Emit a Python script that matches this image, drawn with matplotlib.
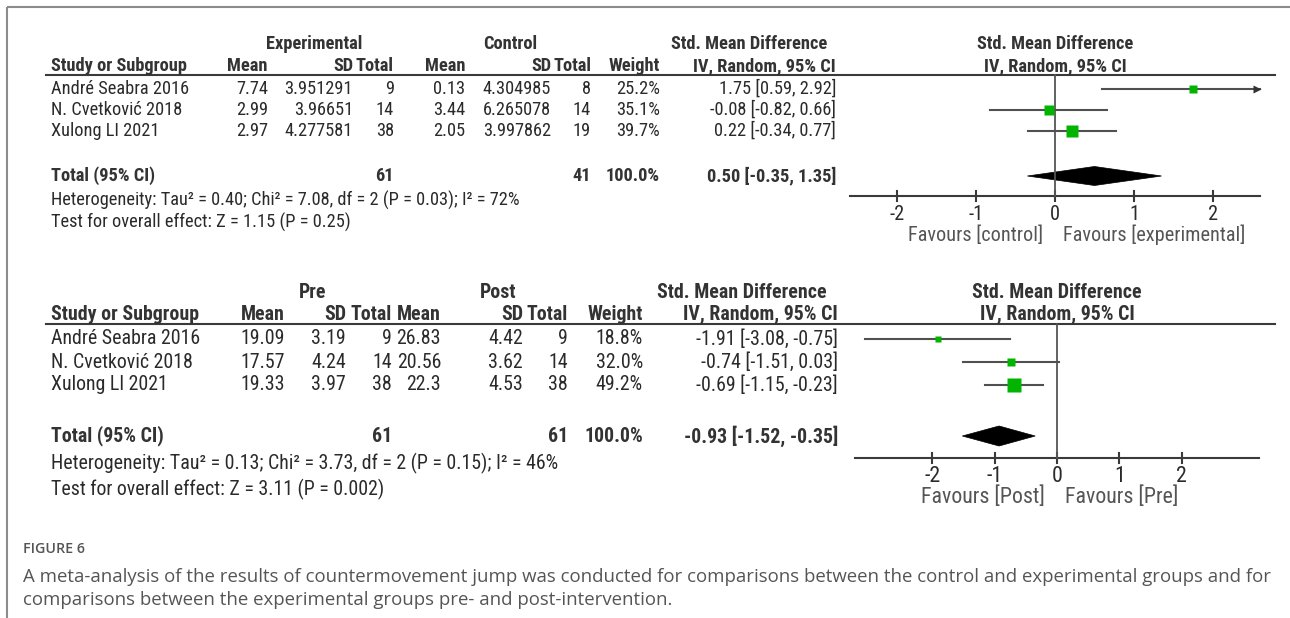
import matplotlib
matplotlib.use("Agg")
import matplotlib.pyplot as plt
from matplotlib.patches import Polygon
from matplotlib import font_manager

W, H = 1290, 618

# ---------------- Data: experimental vs control ----------------
studies = ["André Seabra 2016", "N. Cvetković 2018", "Xulong LI 2021"]
exp_mean = [7.74, 2.99, 2.97]
exp_sd = [3.951291, 3.96651, 4.277581]
exp_n = [9, 14, 38]
ctl_mean = [0.13, 3.44, 2.05]
ctl_sd = [4.304985, 6.265078, 3.997862]
ctl_n = [8, 14, 19]
weight_ec = [25.2, 35.1, 39.7]
smd_ec = [1.75, -0.08, 0.22]
lo_ec = [0.59, -0.82, -0.34]
hi_ec = [2.92, 0.66, 0.77]
pooled_ec = (0.50, -0.35, 1.35)
het_ec = "Heterogeneity: Tau² = 0.40; Chi² = 7.08, df = 2 (P = 0.03); I² = 72%"
test_ec = "Test for overall effect: Z = 1.15 (P = 0.25)"

# ---------------- Data: pre vs post ----------------
pre_mean = [19.09, 17.57, 19.33]
pre_sd = [3.19, 4.24, 3.97]
pre_n = [9, 14, 38]
post_mean = [26.83, 20.56, 22.3]
post_sd = [4.42, 3.62, 4.53]
post_n = [9, 14, 38]
weight_pp = [18.8, 32.0, 49.2]
smd_pp = [-1.91, -0.74, -0.69]
lo_pp = [-3.08, -1.51, -1.15]
hi_pp = [-0.75, 0.03, -0.23]
pooled_pp = (-0.93, -1.52, -0.35)
het_pp = "Heterogeneity: Tau² = 0.13; Chi² = 3.73, df = 2 (P = 0.15); I² = 46%"
test_pp = "Test for overall effect: Z = 3.11 (P = 0.002)"

ticks = [-2, -1, 0, 1, 2]

caption_head = "FIGURE 6"
caption_lines = [
    "A meta-analysis of the results of countermovement jump was conducted for comparisons between the control and experimental groups and for",
    "comparisons between the experimental groups pre- and post-intervention.",
]

# ---------------- Fonts ----------------
available = {f.name for f in font_manager.fontManager.ttflist}
narrow = next((f for f in ["Liberation Sans Narrow", "Nimbus Sans Narrow",
                           "Arial Narrow", "Roboto Condensed", "Archivo Narrow",
                           "PT Sans Narrow"] if f in available), "Liberation Sans")
TABLE_FONT = [narrow, "Liberation Sans", "DejaVu Sans"]
cap = "Open Sans" if "Open Sans" in available else "Liberation Sans"
CAPTION_FONT = [cap, "DejaVu Sans"]

TXT = "#2a2a2a"
HDR = "#333333"
GREEN = "#00b400"
LINE = "#3a3a3a"

fig = plt.figure(figsize=(W / 100, H / 100), dpi=100)
lay = fig.add_axes([0, 0, 1, 1])
lay.set_xlim(0, W)
lay.set_ylim(H, 0)
lay.axis("off")
renderer = fig.canvas.get_renderer()


def fit_size(text, family, target, weight="normal", base=10.0):
    t = lay.text(0, 0, text, fontsize=base, family=family, fontweight=weight)
    w = t.get_window_extent(renderer).width
    t.remove()
    return base * target / w


# outer frame
lay.plot([7, 7], [7, H], color="#8c8c8c", lw=1.5, solid_capstyle="butt")
lay.plot([7, W], [7, 7], color="#8c8c8c", lw=1.5, solid_capstyle="butt")


def ci_text(e, l, h):
    return f"{e:.2f} [{l:.2f}, {h:.2f}]"


def panel(grp_a, grp_b, a_mean, a_sd, a_n, b_mean, b_sd, b_n, weights,
          smd, lo, hi, pooled, het, test, fav_left, fav_right, L):
    # size the type from the width of one numeric cell
    fs = fit_size(str(L["fit_sample"]), TABLE_FONT, L["fit_w"])
    kw = dict(family=TABLE_FONT, fontsize=fs, va="center", color=TXT)
    bk = dict(family=TABLE_FONT, fontsize=fs, va="center", color=HDR,
              fontweight="bold")
    c = L["cols"]
    # group headings
    lay.text(L["grp_x"][0], L["y_grp"], grp_a, ha="center", **bk)
    lay.text(L["grp_x"][1], L["y_grp"], grp_b, ha="center", **bk)
    lay.text(L["smd_c"], L["y_grp"], "Std. Mean Difference", ha="center", **bk)
    lay.text(L["zero_px"], L["y_grp"], "Std. Mean Difference", ha="center", **bk)
    # column headings
    lay.text(L["x_study"], L["y_col"], "Study or Subgroup", ha="left", **bk)
    for x, s in zip(c, ["Mean", "SD", "Total", "Mean", "SD", "Total", "Weight"]):
        lay.text(x, L["y_col"], s, ha="right", **bk)
    lay.text(L["ci_r"], L["y_col"], "IV, Random, 95% CI", ha="right", **bk)
    lay.text(L["zero_px"], L["y_col"], "IV, Random, 95% CI", ha="center", **bk)
    lay.plot([46, 1275], [L["y_line"]] * 2, color=LINE, lw=1.5)
    # study rows
    for i, y in enumerate(L["rows"]):
        lay.text(L["x_study"], y, studies[i], ha="left", **kw)
        vals = [a_mean[i], a_sd[i], a_n[i], b_mean[i], b_sd[i], b_n[i]]
        for x, v in zip(c[:6], vals):
            lay.text(x, y, str(v), ha="right", **kw)
        lay.text(c[6], y, f"{weights[i]:.1f}%", ha="right", **kw)
        lay.text(L["ci_r"], y, ci_text(smd[i], lo[i], hi[i]), ha="right", **kw)
    # pooled row
    yt = L["y_total"]
    lay.text(L["x_study"], yt, "Total (95% CI)", ha="left", **bk)
    lay.text(c[2], yt, str(sum(a_n)), ha="right", **bk)
    lay.text(c[5], yt, str(sum(b_n)), ha="right", **bk)
    lay.text(c[6], yt, f"{sum(weights):.1f}%", ha="right", **bk)
    lay.text(L["ci_r"], yt, ci_text(*pooled), ha="right", **bk)
    lay.text(L["x_study"], L["y_het"], het, ha="left", **kw)
    lay.text(L["x_study"], L["y_test"], test, ha="left", **kw)

    # forest plot on its own axes: x in effect units, y shares the page rows
    unit, zero = L["unit_px"], L["zero_px"]
    px0, px1 = 840, 1280
    ax = fig.add_axes([px0 / W, 0, (px1 - px0) / W, 1])
    ax.set_xlim((px0 - zero) / unit, (px1 - zero) / unit)
    ax.set_ylim(H, 0)
    ax.axis("off")
    xa = L["axis_half"]
    ya = L["y_axis"]
    ax.plot([-xa, xa], [ya, ya], color=LINE, lw=1.5)
    for t in ticks:
        ax.plot([t, t], [ya - 5, ya + 5], color=LINE, lw=1.5)
        ax.text(t, ya + 19, str(t), ha="center", va="center",
                family=TABLE_FONT, fontsize=fs * 1.1, color=TXT)
    ax.plot([0, 0], [L["y_line"], ya], color="#555555", lw=1.3)
    for i, y in enumerate(L["rows"]):
        right = min(hi[i], xa)
        ax.plot([lo[i], right], [y, y], color="#505050", lw=1.5)
        if hi[i] > xa:
            ax.plot([right - 0.04], [y], marker=">", ms=6, color="#333333",
                    mec="none")
        side_pt = 0.28 * weights[i] * 0.72
        ax.plot([smd[i]], [y], marker="s", ms=side_pt, color=GREEN,
                mec="none")
    h = L["dia_h"]
    est, plo, phi = pooled
    ax.add_patch(Polygon([(plo, yt), (est, yt - h), (phi, yt), (est, yt + h)],
                         closed=True, fc="black", ec="black", lw=0.5))
    yf = ya + 39
    ax.annotate(fav_left, xy=(0, yf), xytext=(-12, 0), textcoords="offset pixels",
                ha="right", va="center", family=TABLE_FONT, fontsize=fs * 1.1,
                color="#555555")
    ax.annotate(fav_right, xy=(0, yf), xytext=(8, 0), textcoords="offset pixels",
                ha="left", va="center", family=TABLE_FONT, fontsize=fs * 1.1,
                color="#555555")


panel("Experimental", "Control", exp_mean, exp_sd, exp_n, ctl_mean, ctl_sd, ctl_n,
      weight_ec, smd_ec, lo_ec, hi_ec, pooled_ec, het_ec, test_ec,
      "Favours [control]", "Favours [experimental]",
      dict(fit_sample=exp_sd[0], fit_w=68, grp_x=(314, 510), smd_c=749,
           zero_px=1055, unit_px=78.9,
           x_study=51, cols=[268, 353, 394, 465, 551, 591, 660], ci_r=836,
           y_grp=44, y_col=66, y_line=75, rows=[89, 110, 131], y_total=176,
           y_het=200, y_test=222, y_axis=196, axis_half=2.6, dia_h=9.5))

panel("Pre", "Post", pre_mean, pre_sd, pre_n, post_mean, post_sd, post_n,
      weight_pp, smd_pp, lo_pp, hi_pp, pooled_pp, het_pp, test_pp,
      "Favours [Post]", "Favours [Pre]",
      dict(fit_sample=post_mean[0], fit_w=44, grp_x=(313, 498), smd_c=742,
           zero_px=1057, unit_px=62.3,
           x_study=51, cols=[285, 346, 392, 441, 523, 568, 643], ci_r=838,
           y_grp=292, y_col=314, y_line=324, rows=[339, 362, 385], y_total=436,
           y_het=463, y_test=489, y_axis=458, axis_half=3.24, dia_h=10))

# caption
cfs = fit_size(caption_lines[0], CAPTION_FONT, 1248)
hfs = fit_size(caption_head, CAPTION_FONT, 62, weight="semibold")
lay.text(23, 549, caption_head, ha="left", va="center", family=CAPTION_FONT,
         fontsize=hfs, fontweight="semibold", color="#555555")
for y, s in zip([577, 600], caption_lines):
    lay.text(23, y, s, ha="left", va="center", family=CAPTION_FONT,
             fontsize=cfs, color="#555555")

fig.savefig("out.png", dpi=100, facecolor="white")
